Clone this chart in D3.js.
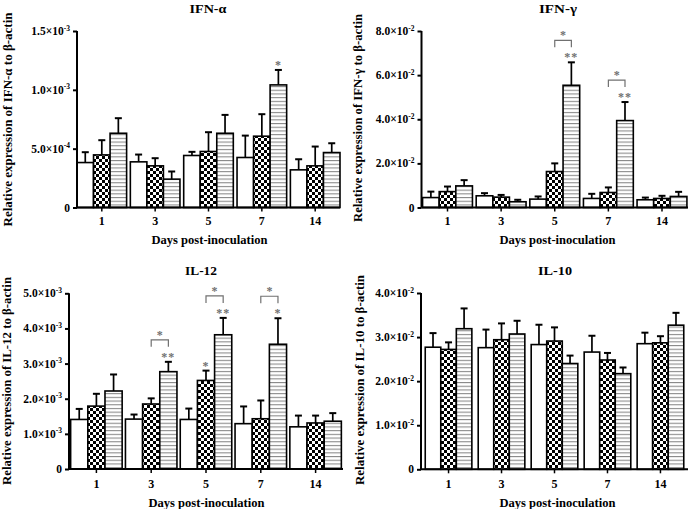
<!DOCTYPE html>
<html>
<head>
<meta charset="utf-8">
<script src="https://cdn.jsdelivr.net/npm/d3@7/dist/d3.min.js"></script>
<style>
  html, body { margin: 0; padding: 0; background: #fff; }
  svg { display: block; }
  text { font-family: "Liberation Serif", "Times New Roman", serif; font-weight: bold; }
</style>
</head>
<body>
<svg id="chart" width="691" height="509"></svg>
<script>
// ---------------- DATA ----------------
const days = ["1", "3", "5", "7", "14"];

// IFN-alpha (values x 1e-3)
const ifnaMean1 = [0.382, 0.388, 0.442, 0.425, 0.320];
const ifnaMean2 = [0.447, 0.354, 0.476, 0.606, 0.354];
const ifnaMean3 = [0.631, 0.241, 0.631, 1.042, 0.467];
const ifnaSd1 = [0.088, 0.062, 0.031, 0.186, 0.090];
const ifnaSd2 = [0.125, 0.065, 0.164, 0.187, 0.164];
const ifnaSd3 = [0.128, 0.065, 0.156, 0.127, 0.079];
const ifnaTicks = [0, 0.5, 1.0, 1.5];
const ifnaTickLabels = [["0", ""], ["5.0\u00d710", "-4"], ["1.0\u00d710", "-3"], ["1.5\u00d710", "-3"]];

// IFN-gamma (values x 1e-2)
const ifngMean1 = [0.45, 0.53, 0.38, 0.41, 0.35];
const ifngMean2 = [0.72, 0.47, 1.63, 0.68, 0.41];
const ifngMean3 = [0.98, 0.26, 5.54, 3.94, 0.50];
const ifngSd1 = [0.27, 0.12, 0.12, 0.21, 0.10];
const ifngSd2 = [0.23, 0.10, 0.37, 0.23, 0.12];
const ifngSd3 = [0.26, 0.09, 1.04, 0.84, 0.21];
const ifngTicks = [0, 2, 4, 6, 8];
const ifngTickLabels = [["0", ""], ["2.0\u00d710", "-2"], ["4.0\u00d710", "-2"], ["6.0\u00d710", "-2"], ["8.0\u00d710", "-2"]];

// IL-12 (values x 1e-3)
const il12Mean1 = [1.41, 1.42, 1.41, 1.29, 1.20];
const il12Mean2 = [1.79, 1.85, 2.52, 1.43, 1.31];
const il12Mean3 = [2.22, 2.77, 3.82, 3.55, 1.36];
const il12Sd1 = [0.30, 0.13, 0.31, 0.49, 0.32];
const il12Sd2 = [0.35, 0.16, 0.28, 0.52, 0.21];
const il12Sd3 = [0.47, 0.28, 0.48, 0.74, 0.23];
const il12Ticks = [0, 1, 2, 3, 4, 5];
const il12TickLabels = [["0", ""], ["1.0\u00d710", "-3"], ["2.0\u00d710", "-3"], ["3.0\u00d710", "-3"], ["4.0\u00d710", "-3"], ["5.0\u00d710", "-3"]];

// IL-10 (values x 1e-2)
const il10Mean1 = [2.77, 2.76, 2.83, 2.66, 2.85];
const il10Mean2 = [2.72, 2.94, 2.91, 2.48, 2.87];
const il10Mean3 = [3.19, 3.07, 2.40, 2.17, 3.27];
const il10Sd1 = [0.32, 0.41, 0.45, 0.37, 0.25];
const il10Sd2 = [0.16, 0.37, 0.31, 0.16, 0.15];
const il10Sd3 = [0.46, 0.30, 0.18, 0.14, 0.28];
const il10Ticks = [0, 1, 2, 3, 4];
const il10TickLabels = [["0", ""], ["1.0\u00d710", "-2"], ["2.0\u00d710", "-2"], ["3.0\u00d710", "-2"], ["4.0\u00d710", "-2"]];

// significance marks: [day index, series index, label]
const ifnaStars = [[3, 2, "*"]];
const ifngStars = [[2, 2, "**"], [3, 2, "**"]];
const il12Stars = [[1, 2, "**"], [2, 1, "*"], [2, 2, "**"], [3, 2, "*"]];
const il10Stars = [];
// brackets between series 2 and 3: [day index, label]
const ifnaBrackets = [];
const ifngBrackets = [[2, "*"], [3, "*"]];
const il12Brackets = [[1, "*"], [2, "*"], [3, "*"]];
const il10Brackets = [];

const panelTitles = ["IFN-\u03b1", "IFN-\u03b3", "IL-12", "IL-10"];
const yTitles = [
  "Relative expression of IFN-\u03b1  to  \u03b2-actin",
  "Relative expression of IFN-\u03b3 to \u03b2-actin",
  "Relative expression of IL-12 to \u03b2-actin",
  "Relative expression of IL-10 to \u03b2-actin"
];
const xTitle = "Days post-inoculation";

// ---------------- LAYOUT ----------------
const panels = [
  { title: panelTitles[0], yTitle: yTitles[0], means: [ifnaMean1, ifnaMean2, ifnaMean3], sds: [ifnaSd1, ifnaSd2, ifnaSd3],
    ticks: ifnaTicks, tickLabels: ifnaTickLabels, stars: ifnaStars, brackets: ifnaBrackets,
    x0: 77, x1: 340, yTop: 31, yBot: 207.5, pi: 0.07, po: 0.0,
    titleX: 208, titleY: 13, titleW: 37, yTitleX: 12, yTitleY: 119.5, yTitleW: 214, xTitleX: 209.5, xTitleY: 244, tickLabY: 225 },
  { title: panelTitles[1], yTitle: yTitles[1], means: [ifngMean1, ifngMean2, ifngMean3], sds: [ifngSd1, ifngSd2, ifngSd3],
    ticks: ifngTicks, tickLabels: ifngTickLabels, stars: ifngStars, brackets: ifngBrackets,
    x0: 421.5, x1: 688, yTop: 31, yBot: 207.5, pi: 0.07, po: 0.02,
    titleX: 558, titleY: 13, titleW: 38, yTitleX: 362, yTitleY: 118, yTitleW: 208, xTitleX: 557.5, xTitleY: 244, tickLabY: 225 },
  { title: panelTitles[2], yTitle: yTitles[2], means: [il12Mean1, il12Mean2, il12Mean3], sds: [il12Sd1, il12Sd2, il12Sd3],
    ticks: il12Ticks, tickLabels: il12TickLabels, stars: il12Stars, brackets: il12Brackets,
    x0: 69, x1: 343, yTop: 293.3, yBot: 469, pi: 0.06, po: 0.03,
    titleX: 201, titleY: 275, titleW: 32, yTitleX: 11, yTitleY: 381, yTitleW: 208, xTitleX: 206.5, xTitleY: 507, tickLabY: 488 },
  { title: panelTitles[3], yTitle: yTitles[3], means: [il10Mean1, il10Mean2, il10Mean3], sds: [il10Sd1, il10Sd2, il10Sd3],
    ticks: il10Ticks, tickLabels: il10TickLabels, stars: il10Stars, brackets: il10Brackets,
    x0: 421, x1: 688, yTop: 293, yBot: 469.3, pi: 0.12, po: 0.08,
    titleX: 555, titleY: 275, titleW: 34, yTitleX: 364, yTitleY: 380, yTitleW: 210, xTitleX: 557.5, xTitleY: 507, tickLabY: 488 }
];

const svg = d3.select("#chart");
const defs = svg.append("defs");

// checkerboard pattern
const chk = defs.append("pattern").attr("id", "checker").attr("patternUnits", "userSpaceOnUse")
  .attr("width", 6).attr("height", 6);
chk.append("rect").attr("width", 6).attr("height", 6).attr("fill", "#fff");
chk.append("rect").attr("width", 3).attr("height", 3).attr("fill", "#000");
chk.append("rect").attr("x", 3).attr("y", 3).attr("width", 3).attr("height", 3).attr("fill", "#000");

// horizontal line pattern
const hl = defs.append("pattern").attr("id", "hlines").attr("patternUnits", "userSpaceOnUse")
  .attr("width", 8).attr("height", 3.7);
hl.append("rect").attr("width", 8).attr("height", 3.7).attr("fill", "#fff");
hl.append("line").attr("x1", 0).attr("x2", 8).attr("y1", 1.5).attr("y2", 1.5)
  .attr("stroke", "#808080").attr("stroke-width", 1);

const fills = ["#fff", "url(#checker)", "url(#hlines)"];
const seriesIdx = [0, 1, 2];

panels.forEach(p => {
  const g = svg.append("g");
  const x = d3.scaleBand().domain(days).range([p.x0, p.x1]).paddingInner(p.pi).paddingOuter(p.po);
  const xs = d3.scaleBand().domain(seriesIdx).range([0, x.bandwidth()]);
  const yMax = p.ticks[p.ticks.length - 1];
  const y = d3.scaleLinear().domain([0, yMax]).range([p.yBot, p.yTop]);

  // bars
  seriesIdx.forEach(s => {
    const gs = g.append("g");
    const data = days.map((d, i) => ({ day: d, i, v: p.means[s][i], sd: p.sds[s][i] }));
    gs.selectAll("line.err").data(data).join("line")
      .attr("x1", d => x(d.day) + xs(s) + xs.bandwidth() / 2)
      .attr("x2", d => x(d.day) + xs(s) + xs.bandwidth() / 2)
      .attr("y1", d => y(d.v)).attr("y2", d => y(d.v + d.sd))
      .attr("stroke", "#000").attr("stroke-width", 1.7);
    gs.selectAll("line.cap").data(data).join("line")
      .attr("x1", d => x(d.day) + xs(s) + xs.bandwidth() / 2 - 3.5)
      .attr("x2", d => x(d.day) + xs(s) + xs.bandwidth() / 2 + 3.5)
      .attr("y1", d => y(d.v + d.sd)).attr("y2", d => y(d.v + d.sd))
      .attr("stroke", "#000").attr("stroke-width", 2);
    gs.selectAll("rect").data(data).join("rect")
      .attr("x", d => x(d.day) + xs(s))
      .attr("y", d => y(d.v))
      .attr("width", xs.bandwidth())
      .attr("height", d => y(0) - y(d.v))
      .attr("fill", fills[s]).attr("stroke", "#000").attr("stroke-width", 1.6);
  });

  // y axis
  const yAxis = g.append("g").attr("transform", `translate(${p.x0},0)`)
    .call(d3.axisLeft(y).tickValues(p.ticks).tickSize(4).tickFormat(""));
  yAxis.select(".domain").attr("stroke-width", 2).attr("d", `M0,${p.yTop}V${p.yBot}`);
  yAxis.selectAll(".tick line").attr("stroke-width", 2);
  p.ticks.forEach((t, i) => {
    const lab = p.tickLabels[i];
    const tx = g.append("text").attr("x", p.x0 - 7).attr("y", y(t) + 4)
      .attr("text-anchor", "end").attr("font-size", 11.5);
    tx.append("tspan").text(lab[0]);
    if (lab[1]) tx.append("tspan").attr("dy", -4.5).attr("font-size", 7.5).text(lab[1]);
  });

  // x axis
  const xAxis = g.append("g").attr("transform", `translate(0,${p.yBot})`)
    .call(d3.axisBottom(x).tickSize(4).tickFormat(""));
  xAxis.select(".domain").attr("stroke-width", 2).attr("d", `M${p.x0},0H${p.x1}`);
  xAxis.selectAll(".tick line").attr("stroke-width", 1.5);
  g.selectAll("text.xt").data(days).join("text").attr("class", "xt")
    .attr("x", d => x(d) + x.bandwidth() / 2).attr("y", p.tickLabY)
    .attr("text-anchor", "middle").attr("font-size", 12).text(d => d);

  // titles
  g.append("text").attr("x", p.titleX).attr("y", p.titleY).attr("text-anchor", "middle")
    .attr("font-size", 13).attr("textLength", p.titleW).attr("lengthAdjust", "spacingAndGlyphs").text(p.title);
  g.append("text").attr("x", p.xTitleX).attr("y", p.xTitleY).attr("text-anchor", "middle")
    .attr("font-size", 12).attr("textLength", 116).attr("lengthAdjust", "spacingAndGlyphs").text(xTitle);
  g.append("text").attr("transform", `translate(${p.yTitleX},${p.yTitleY}) rotate(-90)`)
    .attr("text-anchor", "middle").attr("font-size", 11.5)
    .attr("textLength", p.yTitleW).attr("lengthAdjust", "spacingAndGlyphs").text(p.yTitle);

  // significance stars over bars
  p.stars.forEach(([di, s, lab]) => {
    const cx = x(days[di]) + xs(s) + xs.bandwidth() / 2;
    const top = y(p.means[s][di] + p.sds[s][di]);
    g.append("text").attr("x", cx).attr("y", top - 1).attr("text-anchor", "middle")
      .attr("font-size", 12).attr("font-weight", "normal").attr("fill", "#707070").attr("letter-spacing", 1).text(lab);
  });
  // brackets
  p.brackets.forEach(([di, lab]) => {
    const xa = x(days[di]) + xs(1) + xs.bandwidth() / 2;
    const xb = x(days[di]) + xs(2) + xs.bandwidth() / 2;
    const top = y(p.means[2][di] + p.sds[2][di]) - 22;
    g.append("path").attr("d", `M${xa},${top + 7}V${top}H${xb}V${top + 7}`)
      .attr("fill", "none").attr("stroke", "#707070").attr("stroke-width", 1.2);
    g.append("text").attr("x", (xa + xb) / 2).attr("y", top - 1).attr("text-anchor", "middle")
      .attr("font-size", 12).attr("font-weight", "normal").attr("fill", "#707070").text(lab);
  });
});
</script>
</body>
</html>
